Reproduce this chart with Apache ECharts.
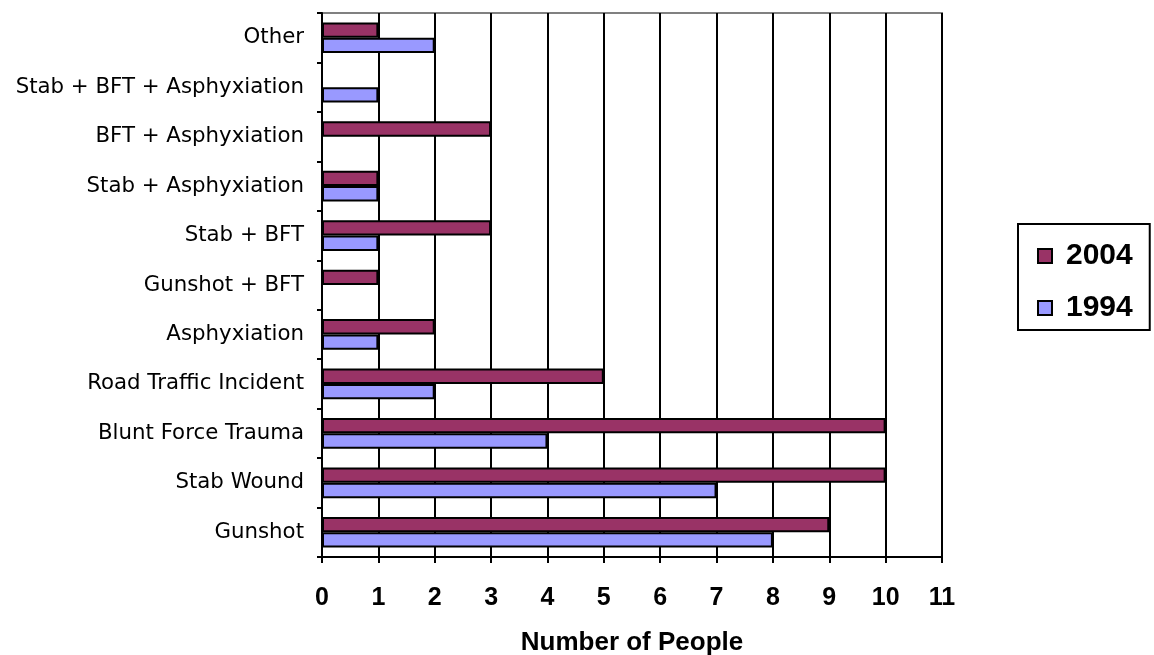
<!DOCTYPE html>
<html>
<head>
<meta charset="utf-8">
<script src="https://cdn.jsdelivr.net/npm/echarts@6/dist/echarts.min.js"></script>
<style>
html,body{margin:0;padding:0;background:#fff;}
#chart{width:1154px;height:655px;}
</style>
</head>
<body>
<div id="chart"></div>
<script>
const categories = ['Gunshot','Stab Wound','Blunt Force Trauma','Road Traffic Incident','Asphyxiation','Gunshot + BFT','Stab + BFT','Stab + Asphyxiation','BFT + Asphyxiation','Stab + BFT + Asphyxiation','Other'];
const values2004 = [9,10,10,5,2,1,3,1,3,0,1];
const values1994 = [8,7,4,2,1,0,1,1,0,1,2];
const xTicks = [0,1,2,3,4,5,6,7,8,9,10,11];
const seriesNames = ['2004','1994'];
const axisTitle = 'Number of People';

const chart = echarts.init(document.getElementById('chart'));
chart.setOption({
  animation:false,
  backgroundColor:'#fff',
  grid:{left:322,right:212,top:13,bottom:98,containLabel:false,outerBoundsMode:'none',show:true,borderColor:'#808080',borderWidth:2,backgroundColor:'transparent'},
  legend:{
    data:seriesNames,
    orient:'vertical',
    left:1018, top:224,
    padding:[17,17,7,19],
    itemGap:22,
    itemWidth:14,itemHeight:14,
    icon:'rect',
    borderColor:'#000',borderWidth:2,
    textStyle:{fontFamily:'Liberation Sans',fontWeight:'bold',fontSize:30,color:'#000',padding:[0,0,0,9]}
  },
  xAxis:{
    type:'value',min:xTicks[0],max:xTicks[xTicks.length-1],interval:1,
    name:axisTitle,nameLocation:'middle',nameGap:73,
    nameTextStyle:{fontFamily:'Liberation Sans',fontWeight:'bold',fontSize:26,color:'#000'},
    axisLine:{show:true,lineStyle:{color:'#000',width:2}},
    axisTick:{show:true,length:6,lineStyle:{color:'#000',width:2}},
    axisLabel:{margin:29,fontFamily:'Liberation Sans',fontWeight:'bold',fontSize:25,color:'#000'},
    splitLine:{show:true,lineStyle:{color:'#000',width:2}}
  },
  yAxis:{
    type:'category',data:categories,boundaryGap:true,
    axisLine:{show:true,lineStyle:{color:'#000',width:2}},
    axisTick:{show:true,length:5,lineStyle:{color:'#000',width:2}},
    axisLabel:{margin:18,fontFamily:'DejaVu Sans',fontSize:21.3,color:'#000'},
    splitLine:{show:false}
  },
  series:[
    {name:'2004',type:'bar',data:values2004,barGap:'0%',barCategoryGap:'38%',
     itemStyle:{color:'#993366',borderColor:'#000',borderWidth:2}},
    {name:'1994',type:'bar',data:values1994,barGap:'0%',barCategoryGap:'38%',
     itemStyle:{color:'#9999FF',borderColor:'#000',borderWidth:2}}
  ]
});
</script>
</body>
</html>
